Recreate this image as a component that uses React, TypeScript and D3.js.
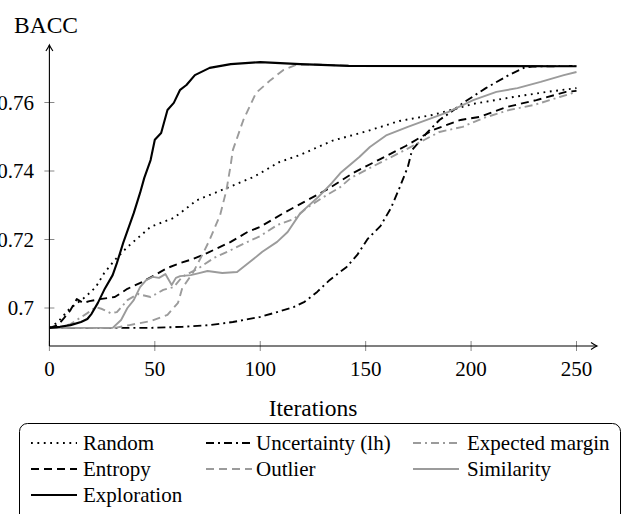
import React, { useEffect, useRef } from 'react';
import * as d3 from 'd3';

// BACC per iteration
const randomData: [number, number][] = [
  [0, 0.6942], [4, 0.6959], [9, 0.6994], [12, 0.7009], [17, 0.7032], [22, 0.7061], [26, 0.7102],
  [31, 0.714], [37, 0.7178], [48, 0.7237], [59, 0.7263], [70, 0.7315], [84, 0.735], [97, 0.7383],
  [109, 0.7426], [119, 0.7447], [134, 0.7488], [151, 0.7517], [166, 0.7546], [182, 0.7564],
  [201, 0.7596], [220, 0.7616], [236, 0.7631], [250, 0.7642]
];
const uncertaintyData: [number, number][] = [
  [0, 0.6942], [48, 0.6942], [63, 0.6945], [76, 0.695], [87, 0.6959], [100, 0.6974], [108, 0.6988],
  [116, 0.7003], [121, 0.7018], [127, 0.7047], [133, 0.7082], [141, 0.712], [146, 0.7155],
  [151, 0.7202], [157, 0.7239], [162, 0.7292], [166, 0.735], [170, 0.7412], [172, 0.7461],
  [179, 0.7511], [185, 0.7549], [189, 0.7566], [197, 0.7602], [207, 0.7642], [217, 0.7677],
  [225, 0.7701], [229, 0.7705], [250, 0.7707]
];
const marginData: [number, number][] = [
  [0, 0.6942], [6, 0.6945], [10, 0.6953], [13, 0.6965], [18, 0.6985], [22, 0.7003], [25, 0.6997],
  [29, 0.6985], [32, 0.6988], [37, 0.7023], [42, 0.7041], [48, 0.7032], [54, 0.7053], [59, 0.7061],
  [63, 0.7091], [71, 0.7117], [78, 0.7146], [86, 0.7169], [94, 0.7193], [100, 0.721], [108, 0.7242],
  [116, 0.726], [122, 0.7292], [130, 0.7324], [138, 0.7353], [143, 0.738], [153, 0.7412],
  [166, 0.7453], [176, 0.7485], [185, 0.7514], [196, 0.7529], [206, 0.7555], [218, 0.7578],
  [230, 0.7593], [242, 0.7616], [250, 0.7631]
];
const entropyData: [number, number][] = [
  [0, 0.6942], [4, 0.695], [7, 0.6971], [10, 0.6994], [13, 0.7026], [16, 0.7015], [19, 0.702],
  [24, 0.7026], [31, 0.7032], [37, 0.7056], [44, 0.7076], [50, 0.7096], [56, 0.7117], [62, 0.7131],
  [68, 0.7143], [75, 0.7161], [86, 0.7193], [94, 0.7222], [100, 0.7237], [111, 0.7277],
  [120, 0.7307], [132, 0.7347], [144, 0.7394], [156, 0.7432], [169, 0.7473], [182, 0.752],
  [195, 0.7549], [204, 0.7558], [217, 0.7587], [231, 0.7607], [245, 0.7631], [250, 0.7634]
];
const outlierData: [number, number][] = [
  [0, 0.6942], [31, 0.6942], [38, 0.695], [48, 0.6962], [56, 0.698], [61, 0.7015], [63, 0.7058],
  [68, 0.7102], [73, 0.7161], [76, 0.7199], [81, 0.7272], [84, 0.7345], [86, 0.7418], [87, 0.7461],
  [92, 0.7549], [98, 0.7628], [105, 0.7666], [111, 0.7695], [117, 0.771], [127, 0.7711],
  [143, 0.7707], [250, 0.7707]
];
const similarityData: [number, number][] = [
  [0, 0.6942], [30, 0.6942], [34, 0.6965], [37, 0.7], [40, 0.7023], [43, 0.7061], [46, 0.7082],
  [49, 0.7091], [52, 0.7088], [55, 0.7099], [58, 0.7067], [60, 0.7088], [62, 0.7093], [67, 0.7096],
  [71, 0.7102], [75, 0.7108], [82, 0.7102], [89, 0.7105], [95, 0.7134], [101, 0.7164],
  [108, 0.7193], [113, 0.7222], [119, 0.7277], [127, 0.7321], [134, 0.7365], [138, 0.7394],
  [147, 0.7441], [152, 0.747], [160, 0.7505], [170, 0.7529], [179, 0.7549], [189, 0.7572],
  [201, 0.7607], [212, 0.7631], [222, 0.7642], [233, 0.766], [244, 0.768], [250, 0.7689]
];
const explorationData: [number, number][] = [
  [0, 0.6942], [5, 0.6945], [10, 0.695], [15, 0.6959], [18, 0.6968], [20, 0.6983], [23, 0.7015],
  [26, 0.7053], [30, 0.7096], [32, 0.7131], [35, 0.719], [40, 0.7277], [43, 0.7336], [45, 0.738],
  [48, 0.7432], [50, 0.7491], [53, 0.7511], [56, 0.7578], [59, 0.7599], [62, 0.7637], [65, 0.7651],
  [69, 0.768], [76, 0.7701], [86, 0.7712], [100, 0.7718], [119, 0.7712], [142, 0.7707], [250, 0.7706]
];

const xTicks = [0, 50, 100, 150, 200, 250];
const yTicks = [0.7, 0.72, 0.74, 0.76];
const yTickLabels = ['0.7', '0.72', '0.74', '0.76'];

const GRAY = '#9b9b9b';
const FONT = "'Liberation Serif', 'DejaVu Serif', serif";

const series = [
  { label: 'Random', data: randomData, color: '#000', dash: '1.8 4.6', width: 1.9 },
  { label: 'Uncertainty (lh)', data: uncertaintyData, color: '#000', dash: '8 4 2 4', width: 1.9 },
  { label: 'Expected margin', data: marginData, color: GRAY, dash: '8 4 2 4', width: 1.9 },
  { label: 'Entropy', data: entropyData, color: '#000', dash: '8 5', width: 1.9 },
  { label: 'Outlier', data: outlierData, color: GRAY, dash: '8 5', width: 1.9 },
  { label: 'Similarity', data: similarityData, color: GRAY, dash: null, width: 1.9 },
  { label: 'Exploration', data: explorationData, color: '#000', dash: null, width: 2.1 }
];

const W = 623;
const H = 514;

const App = () => {
  const svgRef = useRef<SVGSVGElement>(null);

  useEffect(() => {
    if (!svgRef.current) return;
    const svg = d3.select(svgRef.current);
    svg.selectAll('*').remove();

    const x = d3.scaleLinear().domain([0, 250]).range([49.4, 576.5]);
    const y = d3.scaleLinear().domain([0.7, 0.76]).range([308, 102.5]);

    const axisY0 = 346; // bottom of the plot box
    const axisX0 = 49.4;

    // ticks
    svg.append('g').selectAll('line').data(xTicks).join('line')
      .attr('x1', d => x(d)).attr('x2', d => x(d))
      .attr('y1', axisY0 - 5).attr('y2', axisY0 + 5)
      .attr('stroke', '#888').attr('stroke-width', 1);
    svg.append('g').selectAll('line').data(yTicks).join('line')
      .attr('x1', axisX0 - 5).attr('x2', axisX0 + 5)
      .attr('y1', d => y(d)).attr('y2', d => y(d))
      .attr('stroke', '#888').attr('stroke-width', 1);

    // tick labels
    svg.append('g').selectAll('text').data(xTicks).join('text')
      .attr('x', d => x(d)).attr('y', 376)
      .attr('text-anchor', 'middle')
      .style('font-family', FONT).style('font-size', '21px')
      .text(d => String(d));
    svg.append('g').selectAll('text').data(yTicks).join('text')
      .attr('x', 34).attr('y', d => y(d))
      .attr('dy', '0.35em')
      .attr('text-anchor', 'end')
      .style('font-family', FONT).style('font-size', '21px')
      .text((d, i) => yTickLabels[i]);

    // series
    const line = d3.line<[number, number]>()
      .x(d => x(d[0]))
      .y(d => y(d[1]));

    series.forEach(s => {
      svg.append('path')
        .datum(s.data)
        .attr('d', line)
        .attr('fill', 'none')
        .attr('stroke', s.color)
        .attr('stroke-width', s.width)
        .attr('stroke-linejoin', 'round')
        .attr('stroke-dasharray', s.dash ?? null);
    });

    // axes with arrows
    const axisTopY = 45;
    const axisRightX = 597;
    svg.append('line')
      .attr('x1', axisX0).attr('x2', axisX0)
      .attr('y1', axisY0).attr('y2', axisTopY)
      .attr('stroke', '#000').attr('stroke-width', 1.1);
    svg.append('line')
      .attr('x1', axisX0).attr('x2', axisRightX)
      .attr('y1', axisY0).attr('y2', axisY0)
      .attr('stroke', '#000').attr('stroke-width', 1.1);
    svg.append('path')
      .attr('d', `M${axisX0 - 3.5},${axisTopY + 6} Q${axisX0 - 0.8},${axisTopY + 2} ${axisX0},${axisTopY} Q${axisX0 + 0.8},${axisTopY + 2} ${axisX0 + 3.5},${axisTopY + 6}`)
      .attr('fill', 'none').attr('stroke', '#000').attr('stroke-width', 1.1);
    svg.append('path')
      .attr('d', `M${axisRightX - 6},${axisY0 - 3.5} Q${axisRightX - 2},${axisY0 - 0.8} ${axisRightX},${axisY0} Q${axisRightX - 2},${axisY0 + 0.8} ${axisRightX - 6},${axisY0 + 3.5}`)
      .attr('fill', 'none').attr('stroke', '#000').attr('stroke-width', 1.1);

    // axis labels
    svg.append('text')
      .attr('x', 14).attr('y', 33)
      .style('font-family', FONT).style('font-size', '23.5px')
      .text('BACC');
    svg.append('text')
      .attr('x', 313).attr('y', 416)
      .attr('text-anchor', 'middle')
      .style('font-family', FONT).style('font-size', '23.5px')
      .text('Iterations');

    // legend
    const legend = svg.append('g');
    legend.append('rect')
      .attr('x', 19.5).attr('y', 423.5)
      .attr('width', 601).attr('height', 120)
      .attr('rx', 8)
      .attr('fill', '#fff').attr('stroke', '#000').attr('stroke-width', 1);

    const colSample = [31, 206, 413];
    const colText = [83, 256, 467];
    const rowY = [443, 469, 495];
    const sampleLen = 46;

    series.forEach((s, i) => {
      const c = i % 3;
      const r = Math.floor(i / 3);
      legend.append('line')
        .attr('x1', colSample[c]).attr('x2', colSample[c] + sampleLen)
        .attr('y1', rowY[r]).attr('y2', rowY[r])
        .attr('stroke', s.color)
        .attr('stroke-width', s.width)
        .attr('stroke-dasharray', s.dash ?? null);
      legend.append('text')
        .attr('x', colText[c]).attr('y', rowY[r])
        .attr('dy', '0.33em')
        .style('font-family', FONT).style('font-size', '21px')
        .text(s.label);
    });
  }, []);

  return (
    <svg
      ref={svgRef}
      width={W}
      height={H}
      style={{ position: 'absolute', left: 0, top: 0, background: '#fff' }}
    />
  );
};

export default App;
